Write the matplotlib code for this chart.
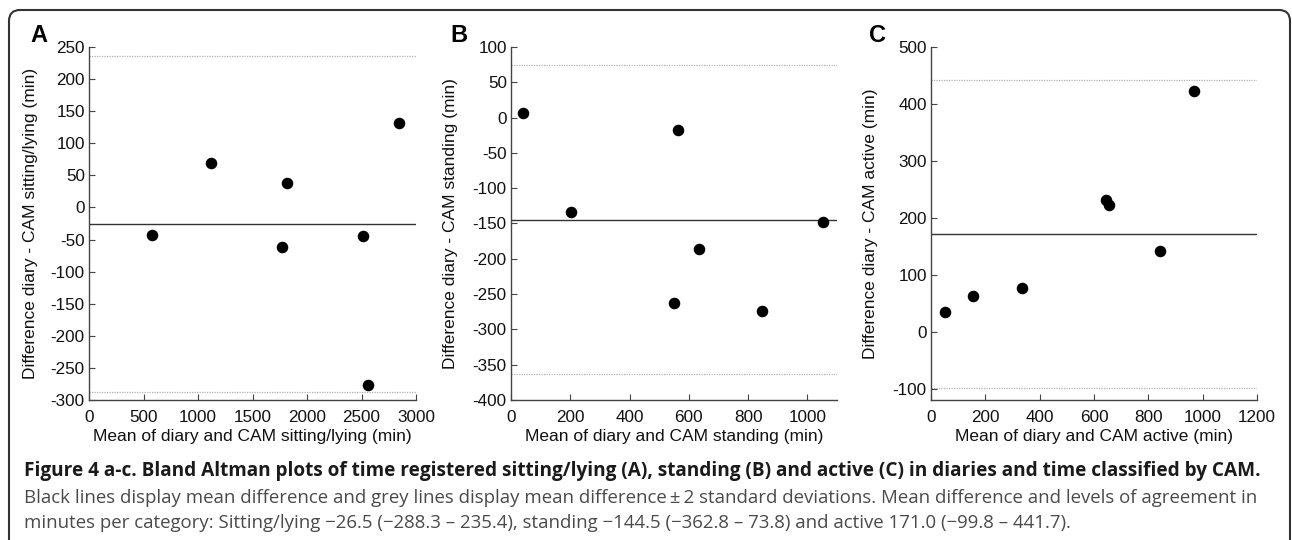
import matplotlib
matplotlib.use("Agg")
import matplotlib.pyplot as plt
from matplotlib.patches import FancyBboxPatch
from matplotlib.transforms import IdentityTransform

# ---- data ----
a_mean = [582, 1117, 1812, 1772, 2513, 2844, 2562]
a_diff = [-43, 69, 38, -61, -45, 131, -277]
a_stats = [-26.5, -288.3, 235.4]

b_mean = [40, 203, 564, 549, 634, 846, 1053]
b_diff = [7, -134, -17, -262, -186, -274, -148]
b_stats = [-144.5, -362.8, 73.8]

c_mean = [53, 154, 336, 643, 657, 842, 968]
c_diff = [35, 63, 77, 231, 222, 142, 423]
c_stats = [171.0, -99.8, 441.7]

panel_letters = ["A", "B", "C"]
xlabels = ["Mean of diary and CAM sitting/lying (min)",
           "Mean of diary and CAM standing (min)",
           "Mean of diary and CAM active (min)"]
ylabels = ["Difference diary - CAM sitting/lying (min)",
           "Difference diary - CAM standing (min)",
           "Difference diary - CAM active (min)"]
xticks = [list(range(0, 3001, 500)), list(range(0, 1001, 200)), list(range(0, 1201, 200))]
yticks = [list(range(-300, 251, 50)), list(range(-400, 101, 50)), list(range(-100, 501, 100))]
xlims = [(0, 3000), (0, 1100), (0, 1200)]
ylims = [(-300, 250), (-400, 100), (-120, 500)]

caption_bold = ("Figure 4 a-c. Bland Altman plots of time registered sitting/lying (A), "
                "standing (B) and active (C) in diaries and time classified by CAM.")
caption_l2 = ("Black lines display mean difference and grey lines display mean difference\u2009\u00b1\u20092 "
              "standard deviations. Mean difference and levels of agreement in")
caption_l3 = ("minutes per category: Sitting/lying \u221226.5 (\u2212288.3 \u2013 235.4), standing "
              "\u2212144.5 (\u2212362.8 \u2013 73.8) and active 171.0 (\u221299.8 \u2013 441.7).")

W, H = 1292, 540
fig = plt.figure(figsize=(W / 100, H / 100), dpi=100)
plt.rcParams['font.family'] = ['Liberation Sans', 'DejaVu Sans']
plt.rcParams['axes.unicode_minus'] = False

# axes pixel boxes: left, right, top, bottom
boxes = [(89, 416, 47, 400), (511, 837, 47, 400), (931, 1257, 47, 400)]
ylabel_x = [38, 458, 878]
letter_x = [39, 459, 878]

datasets = [(a_mean, a_diff, a_stats), (b_mean, b_diff, b_stats), (c_mean, c_diff, c_stats)]
spine_col = '#444444'

for i, (xm, yd, st) in enumerate(datasets):
    l, r, t, b = boxes[i]
    ax = fig.add_axes([l / W, 1 - b / H, (r - l) / W, (b - t) / H])
    ax.plot(xm, yd, 'o', color='black', markersize=7.3, zorder=3)
    ax.axhline(st[0], color='#333333', lw=1.0, zorder=2)
    ax.axhline(st[1], color='#b0b0b0', lw=0.9, ls=(0, (1, 1)), zorder=1)
    ax.axhline(st[2], color='#b0b0b0', lw=0.9, ls=(0, (1, 1)), zorder=1)
    ax.set_xlim(*xlims[i])
    ax.set_ylim(*ylims[i])
    ax.set_xticks(xticks[i])
    ax.set_yticks(yticks[i])
    for s in ['top', 'right']:
        ax.spines[s].set_visible(False)
    for s in ['left', 'bottom']:
        ax.spines[s].set_color(spine_col)
        ax.spines[s].set_linewidth(1.0)
    ax.tick_params(direction='in', length=4, width=0.8, color=spine_col,
                   labelsize=12.3, labelcolor='#111111', pad=3)
    ax.tick_params(axis='x', pad=7)
    ax.set_xlabel(xlabels[i], fontsize=12.5, color='#111111', labelpad=3)
    ax.set_ylabel(ylabels[i], fontsize=12.5, color='#111111')
    ax.yaxis.set_label_coords((ylabel_x[i] - l) / (r - l), 0.5)
    fig.text(letter_x[i] / W, 1 - 35 / H, panel_letters[i], fontsize=17, fontweight='bold',
             ha='center', va='center', color='black')

# frame
frame = FancyBboxPatch((9, -30), 1281, (H - 10) + 30, boxstyle="round,pad=0,rounding_size=11",
                       transform=IdentityTransform(), fill=False, edgecolor='#333333', linewidth=1.5)
fig.patches.append(frame)

# caption, fitted to widths
cap_font = ['Open Sans', 'DejaVu Sans']
renderer = fig.canvas.get_renderer()
t1 = fig.text(24 / W, 1 - 476 / H, caption_bold, fontsize=12, fontweight='bold', color='#1a1a1a',
              family=cap_font, ha='left', va='baseline')
t1.set_fontsize(12 * 1233 / t1.get_window_extent(renderer).width)
t2 = fig.text(24 / W, 1 - 503 / H, caption_l2, fontsize=12, color='#4a4a4a',
              family=cap_font, ha='left', va='baseline')
fs2 = 12 * 1224 / t2.get_window_extent(renderer).width
t2.set_fontsize(fs2)
fig.text(24 / W, 1 - 528 / H, caption_l3, fontsize=fs2, color='#4a4a4a',
         family=cap_font, ha='left', va='baseline')

fig.savefig('out.png', dpi=100)
